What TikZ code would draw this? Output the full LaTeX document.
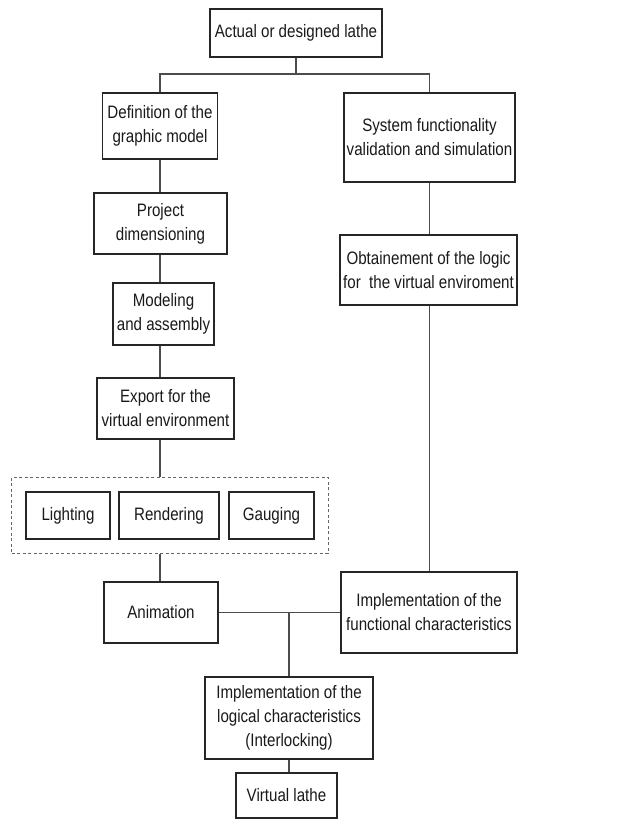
\documentclass[tikz,border=0pt]{standalone}
\usepackage{fontspec}
\setmainfont{Liberation Sans}[FakeStretch=0.84]
\usetikzlibrary{fit}

\begin{document}
\begin{tikzpicture}[x=1pt, y=-1pt,
	box/.style={draw=black!85, line width=1.3pt, align=center, inner sep=0pt, font=\fontsize{18}{24}\selectfont, text=black!90},
	link/.style={draw=black!70, line width=1.3pt},
	grp/.style={draw=black!60, line width=1.1pt, dash pattern=on 3pt off 2.5pt, inner sep=0pt}]
			%%%%% FRAME %%%%%
			\useasboundingbox (0,0) rectangle (629,819);
			
			%%%%% BOXES %%%%%
			\node[box, minimum width=172pt, minimum height=48pt] (top) at (296,33) {Actual or designed lathe};
			
			\node[box, minimum width=115pt, minimum height=66pt] (def) at (160,126) {Definition of the\\graphic model};
			\node[box, minimum width=133pt, minimum height=61pt] (proj) at (160.5,223.5) {Project\\dimensioning};
			\node[box, minimum width=101pt, minimum height=62pt] (model) at (163.5,314) {Modeling\\and assembly};
			\node[box, minimum width=137pt, minimum height=61pt] (export) at (165.5,408.5) {Export for the\\virtual environment};
			
			\node[box, minimum width=84pt, minimum height=47pt] (light) at (68,515.5) {Lighting};
			\node[box, minimum width=100pt, minimum height=47pt] (render) at (169,515.5) {Rendering};
			\node[box, minimum width=85pt, minimum height=47pt] (gauge) at (271.5,515.5) {Gauging};
			\node[grp, fit=(light)(gauge), inner xsep=13.5pt, inner ysep=14pt] (group) {};
			
			\node[box, minimum width=114pt, minimum height=61pt] (anim) at (161,612.5) {Animation};
			
			\node[box, minimum width=171pt, minimum height=89pt] (sys) at (429.5,137.5) {System functionality\\validation and simulation};
			\node[box, minimum width=177pt, minimum height=70pt] (obt) at (428.5,270) {Obtainement of the logic\\for~ the virtual enviroment};
			\node[box, minimum width=176pt, minimum height=81pt] (func) at (429,612.5) {Implementation of the\\functional characteristics};
			
			\node[box, minimum width=168pt, minimum height=82pt] (logic) at (289,718) {Implementation of the\\logical characteristics\\(Interlocking)};
			\node[box, minimum width=101pt, minimum height=45pt] (virt) at (286.5,795.5) {Virtual lathe};
			
			%%%%% LINKS %%%%%
			\coordinate (fork) at (296,74);
			\draw[link] (top.south) -- (fork);
			\draw[link] (def.north) |- (fork) -| (sys.north);
			
			\draw[link] (def.south) -- (def.south |- proj.north);
			\draw[link] (def.south |- proj.south) -- (def.south |- model.north);
			\draw[link] (def.south |- model.south) -- (def.south |- export.north);
			\draw[link] (def.south |- export.south) -- (def.south |- group.north);
			\draw[link] (def.south |- group.south) -- (def.south |- anim.north);
			
			\draw[link] (sys.south) -- (sys.south |- obt.north);
			\draw[link] (sys.south |- obt.south) -- (sys.south |- func.north);
			
			\draw[link] (anim.east) -- (func.west);
			\draw[link] (logic.north) -- (logic.north |- anim.east);
			\draw[link] (logic.south) -- (logic.south |- virt.north);
			
			%%%%% END %%%%%
\end{tikzpicture}
\end{document}
